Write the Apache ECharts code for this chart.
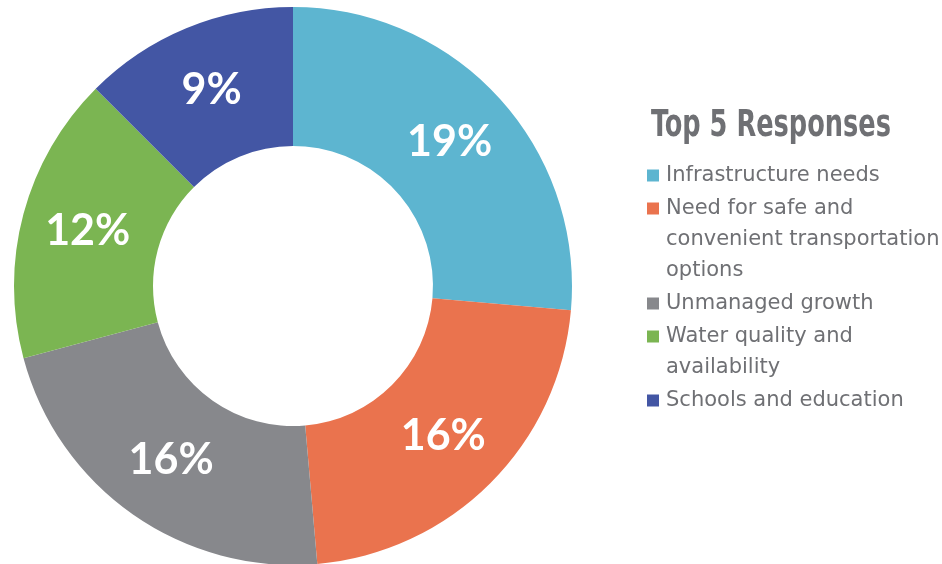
<!DOCTYPE html>
<html>
<head>
<meta charset="utf-8">
<script src="https://cdn.jsdelivr.net/npm/echarts@6/dist/echarts.min.js"></script>
<style>
html,body{margin:0;padding:0;background:#fff;}
#chart{width:942px;height:564px;}
</style>
</head>
<body>
<div id="chart"></div>
<script>
const categories = [
  'Infrastructure needs',
  'Need for safe and convenient transportation options',
  'Unmanaged growth',
  'Water quality and availability',
  'Schools and education'
];
const values = [19, 16, 16, 12, 9];
const legendLines = [
  ['Infrastructure needs'],
  ['Need for safe and', 'convenient transportation', 'options'],
  ['Unmanaged growth'],
  ['Water quality and', 'availability'],
  ['Schools and education']
];
const colors = ['#5db5d0', '#ea734e', '#87888c', '#7bb552', '#4356a4'];
const titleText = 'Top 5 Responses';

const chart = echarts.init(document.getElementById('chart'), null, {renderer: 'canvas'});

const titleFont = "bold 37px 'DejaVu Sans Condensed'";
const cv = document.createElement('canvas').getContext('2d');
cv.font = titleFont;
const titleScale = 240 / cv.measureText(titleText).width;

const rich = {
  sp: {width: 19, height: 31},
  g: {width: 7},
  t: {fontSize: 21, color: '#6f7074', fontFamily: 'DejaVu Sans', lineHeight: 31, height: 31}
};
colors.forEach((c, i) => {
  rich['s' + i] = {width: 12, height: 12, backgroundColor: c};
});

chart.setOption({
  animation: false,
  graphic: [{
    type: 'text',
    x: 651,
    y: 108,
    scaleX: titleScale,
    silent: true,
    style: {
      text: titleText,
      font: titleFont,
      fill: '#6f7074',
      verticalAlign: 'top'
    }
  }],
  legend: {
    orient: 'vertical',
    left: 637,
    top: 155,
    icon: 'none',
    itemWidth: 0,
    itemHeight: 12,
    itemGap: 2,
    selectedMode: false,
    data: categories,
    formatter: function (name) {
      const i = categories.indexOf(name);
      return legendLines[i].map((line, k) =>
        (k === 0 ? '{s' + i + '|}{g|}' : '{sp|}') + '{t|' + line + '}'
      ).join('\n');
    },
    textStyle: {rich: rich, lineHeight: 31}
  },
  series: [{
    type: 'pie',
    center: [293, 286],
    radius: [140, 279],
    startAngle: 90,
    clockwise: true,
    silent: true,
    label: {
      show: true,
      position: 'inside',
      formatter: '{c}%',
      color: '#ffffff',
      fontSize: 43,
      fontWeight: 'bold',
      fontFamily: 'Lato'
    },
    labelLine: {show: false},
    itemStyle: {borderWidth: 0},
    data: categories.map((n, i) => ({name: n, value: values[i], itemStyle: {color: colors[i]}}))
  }]
});
</script>
</body>
</html>
